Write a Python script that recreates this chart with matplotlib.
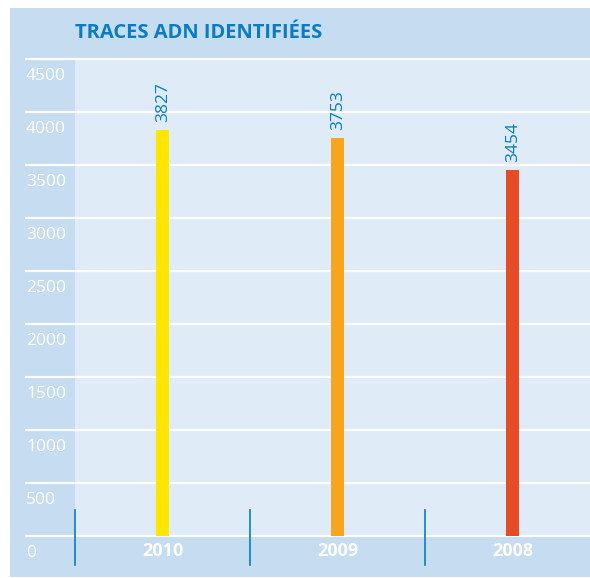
import matplotlib.pyplot as plt
import matplotlib.transforms as mtransforms
from matplotlib.patches import Rectangle

years = ['2010', '2009', '2008']
traces = [3827, 3753, 3454]
bar_colors = ['#ffe600', '#f8a51e', '#e54b25']
y_ticks = [0, 500, 1000, 1500, 2000, 2500, 3000, 3500, 4000, 4500]
title = 'TRACES ADN IDENTIFIÉES'

W, H = 590, 578
blue = '#0a7cc4'
plt.rcParams['font.family'] = ['Open Sans', 'DejaVu Sans']

fig = plt.figure(figsize=(W / 100, H / 100), dpi=100)
fig.patch.set_facecolor('white')

# outer light blue panel
fig.patches.append(Rectangle((10 / W, 1 / H), 1 - 10 / W, (577 - 8) / H,
                             transform=fig.transFigure, facecolor='#c6dcf0',
                             edgecolor='none', zorder=-10))

# plot area
left, right, top, bottom = 75, 590, 59, 536
ax = fig.add_axes([left / W, (H - bottom) / H, (right - left) / W, (bottom - top) / H])
ax.set_facecolor('#dfebf7')
for s in ax.spines.values():
    s.set_visible(False)
ax.set_xticks([])
ax.set_yticks([])
ax.set_ylim(0, 4500)
step = 175 / (right - left)
ax.set_xlim(-0.5, -0.5 + 1 / step)

x = list(range(len(years)))
ax.bar(x, traces, width=13 / 175, color=bar_colors, zorder=3)

# gridlines extending into the left margin, labels beneath them
xl = (26 - left) / (right - left)
for v in y_ticks:
    ax.axhline(v, xmin=xl, xmax=1, color='white', lw=1.6, clip_on=False, zorder=2)
    off = mtransforms.offset_copy(ax.transData, fig=fig, x=0, y=-6.5, units='points')
    tr = mtransforms.blended_transform_factory(ax.transAxes, off)
    ax.text(xl, v, str(v), transform=tr, ha='left', va='top', color='white',
            fontsize=12.5)

# value labels
for xi, v in zip(x, traces):
    ax.annotate(str(v), (xi, v), xytext=(0.5, 6), textcoords='offset points',
                rotation=90, ha='center', va='bottom', color=blue, fontsize=12.5)

# year labels and dividers
for xi, yr in zip(x, years):
    ax.annotate(yr, (xi, 0), xytext=(0, -11), textcoords='offset points',
                ha='center', va='center', color='white', fontsize=13,
                fontweight='bold', annotation_clip=False)
    ax.plot([xi - 0.5, xi - 0.5], [250, -275], color=blue, lw=1.2,
            clip_on=False, zorder=4)

fig.text(75 / W, (H - 33) / H, title, ha='left', va='center', color=blue,
         fontsize=14.5, fontweight='bold')

fig.savefig('out.png', dpi=100)
